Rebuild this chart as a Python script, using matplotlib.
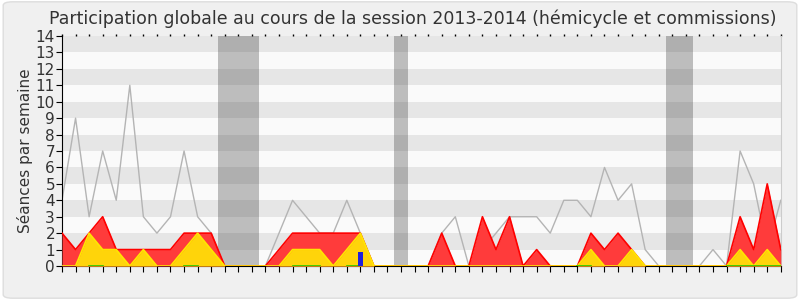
import numpy as np
import matplotlib
matplotlib.use('Agg')
import matplotlib.pyplot as plt
from matplotlib.patches import FancyBboxPatch

# semaines de la session 2013-2014 (0 = fin septembre 2013)
weeks = np.arange(54)

# seances totales (ligne grise)
total = [4, 9, 3, 7, 4, 11, 3, 2, 3, 7, 3, 2, 0, 0, 0, 0, 2, 4, 3, 2,
         2, 4, 2, 0, 0, 0, 0, 0, 2, 3, 0, 1, 2, 3, 3, 3, 2, 4, 4, 3,
         6, 4, 5, 1, 0, 0, 0, 0, 1, 0, 7, 5, 1, 4]
# presences hemicycle + commissions (rouge)
presences = [2, 1, 2, 3, 1, 1, 1, 1, 1, 2, 2, 2, 0, 0, 0, 0, 1, 2, 2, 2,
             2, 2, 2, 0, 0, 0, 0, 0, 2, 0, 0, 3, 1, 3, 0, 1, 0, 0, 0, 2,
             1, 2, 1, 0, 0, 0, 0, 0, 0, 0, 3, 1, 5, 1]
# presences commissions (jaune)
commissions = [0, 0, 2, 1, 1, 0, 1, 0, 0, 1, 2, 1, 0, 0, 0, 0, 0, 1, 1, 1,
               0, 1, 2, 0, 0, 0, 0, 0, 0, 0, 0, 0, 0, 0, 0, 0, 0, 0, 0, 1,
               0, 0, 1, 0, 0, 0, 0, 0, 0, 0, 1, 0, 1, 0]
# interventions (vert, au ras de l'axe) - nan = rien
nan = np.nan
interventions = [nan, nan, 0, 0, nan, nan, nan, nan, nan, 0, 0, nan, nan, nan, nan, nan, nan, 0, 0, 0,
                 nan, 0, 0, nan, nan, nan, nan, nan, nan, nan, nan, nan, nan, nan, nan, nan, nan, nan, 0, 0,
                 nan, nan, nan, nan, nan, nan, nan, nan, nan, 0, 0, 0, 0, 0]
# questions orales (barre bleue)
question_week = [22]
question_val = [0.85]

# vacances parlementaires (debut, fin en semaines)
vacances = [(11.5, 14.5), (24.5, 25.5), (44.5, 46.5)]

month_pos = [1, 6, 11, 15, 18, 22, 27, 31, 36, 40, 45, 50]
month_labels = ['Oct', 'Nov', 'Déc', 'Jan 14', 'Fév', 'Mar', 'Avr', 'Mai', 'Juin', 'Juil', 'Août', 'Sept']

fig = plt.figure(figsize=(8, 3), dpi=100, facecolor='white')
# cadre arrondi du fond
fig.patches.append(FancyBboxPatch((0.004, 0.006), 0.992, 0.988, boxstyle='round,pad=0,rounding_size=0.012',
                                  transform=fig.transFigure, facecolor='#f0f0f0', edgecolor='#dddddd',
                                  lw=1, zorder=-10))

ax = fig.add_axes([0.0775, 0.1133, 0.8985, 0.7667])
ax.set_facecolor('#fafafa')

for k in range(1, 14, 2):
    ax.axhspan(k, k + 1, color='#e6e6e6', lw=0, zorder=0)
for a, b in vacances:
    ax.axvspan(a, b, color='#323232', alpha=0.3, lw=0, zorder=1)

ax.plot(weeks, total, color='#b4b4b4', lw=1, zorder=2)
ax.fill_between(weeks, presences, color='#ff3b3b', lw=0, zorder=3)
ax.plot(weeks, presences, color='#ff0000', lw=1.2, zorder=4)
ax.fill_between(weeks, commissions, color='#ffd40a', lw=0, zorder=5)
ax.plot(weeks, commissions, color='#ffe600', lw=1.2, zorder=6)
ax.plot(weeks, interventions, color='#22cc00', lw=1.2, zorder=7)
ax.bar(question_week, question_val, width=0.35, color='#2020dd', zorder=8)

ax.set_xlim(0, 53)
ax.set_ylim(0, 14)
ax.set_yticks(range(15))
ax.set_xticks(weeks)
ax.set_xticklabels([])
ax.set_xticks(month_pos, minor=True)
ax.set_xticklabels(month_labels, minor=True, fontsize=11, color='#333333')
ax.tick_params(axis='x', which='major', length=4, direction='out')
ax.tick_params(axis='x', which='minor', length=0, pad=4)
ax.tick_params(axis='y', length=4, labelsize=11, pad=1, labelcolor='#333333')

# petits points en haut
top = ax.secondary_xaxis('top')
top.set_xticks(weeks)
top.set_xticklabels([])
top.tick_params(length=1.5, width=1)
top.spines['top'].set_visible(False)

ax.spines['top'].set_visible(False)
ax.spines['right'].set_color('#cccccc')
ax.set_ylabel('Séances par semaine', fontsize=11, color='#333333', labelpad=2)
fig.suptitle('Participation globale au cours de la session 2013-2014 (hémicycle et commissions)',
             fontsize=12.5, color='#333333', x=0.516, y=0.97)

fig.savefig('out.png', dpi=100, facecolor=fig.get_facecolor())
